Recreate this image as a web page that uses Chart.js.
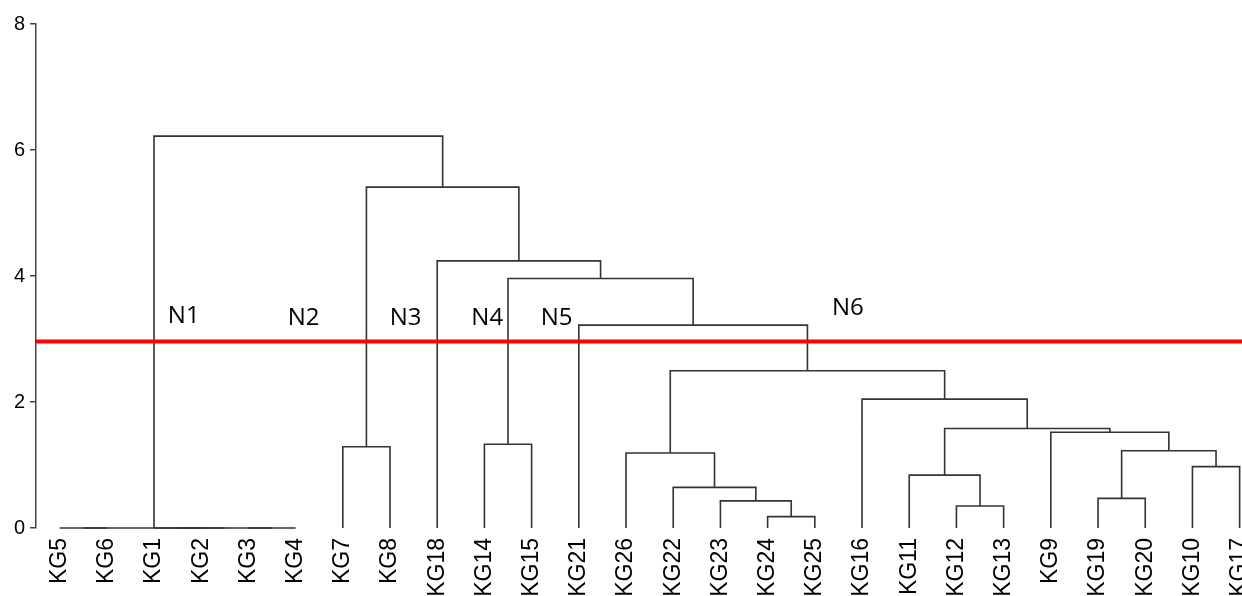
<!DOCTYPE html>
<html>
<head>
<meta charset="utf-8">
<script src="https://cdn.jsdelivr.net/npm/chart.js@4/dist/chart.umd.min.js"></script>
<style>
  html, body { margin: 0; padding: 0; background: #fff; }
  #wrap { width: 1242px; height: 596px; position: relative; }
</style>
</head>
<body>
<div id="wrap"><canvas id="c"></canvas></div>
<script>
// ---- data ----
const leaves = ['KG5','KG6','KG1','KG2','KG3','KG4','KG7','KG8','KG18','KG14','KG15','KG21','KG26','KG22','KG23','KG24','KG25','KG16','KG11','KG12','KG13','KG9','KG19','KG20','KG10','KG17'];
// merge i joins mergeLeft[i] and mergeRight[i] at mergeHeight[i]; 'Mk' refers to merge k
const mergeLeft   = ['KG5','KG1','KG3','M1','M0','KG24','KG12','KG23','KG19','KG22','KG11','KG10','KG26','M8','KG7','KG14','KG9','M10','KG16','M12','KG21','M15','KG18','M14','M4'];
const mergeRight  = ['KG6','KG2','KG4','M2','M3','KG25','KG13','M5','KG20','M7','M6','KG17','M9','M11','KG8','KG15','M13','M16','M17','M18','M19','M20','M21','M22','M23'];
const mergeHeight = [0,0,0,0,0,0.18,0.35,0.43,0.47,0.645,0.84,0.975,1.19,1.226,1.29,1.33,1.52,1.58,2.045,2.495,3.22,3.96,4.24,5.41,6.22];
const cutHeight = 2.96;
const clusterLabels = ['N1','N2','N3','N4','N5','N6'];
const clusterLabelX = [2.63, 5.17, 7.33, 9.06, 10.53, 16.7];
const clusterLabelY = [3.36, 3.33, 3.33, 3.33, 3.33, 3.49];
const yTicks = [0, 2, 4, 6, 8];

// ---- build dendrogram segments ----
const xMin = -0.5, xMax = 25.05;
const nodeX = {}, nodeH = {};
leaves.forEach((l, i) => { nodeX[l] = i; nodeH[l] = 0; });
const segments = [];
mergeHeight.forEach((h, i) => {
  const a = mergeLeft[i], b = mergeRight[i];
  segments.push([
    {x: nodeX[a], y: nodeH[a]},
    {x: nodeX[a], y: h},
    {x: nodeX[b], y: h},
    {x: nodeX[b], y: nodeH[b]}
  ]);
  nodeX['M' + i] = (nodeX[a] + nodeX[b]) / 2;
  nodeH['M' + i] = h;
});

const datasets = segments.map(pts => ({
  data: pts, showLine: true, borderColor: '#333', borderWidth: 1.6,
  pointRadius: 0, fill: false, order: 2, clip: false, tension: 0
}));
datasets.push({
  data: [{x: xMin, y: cutHeight}, {x: xMax, y: cutHeight}],
  showLine: true, borderColor: '#ff0000', borderWidth: 4, pointRadius: 0,
  fill: false, order: 0, clip: false
});

const labelPlugin = {
  id: 'clusterLabels',
  afterDatasetsDraw(chart) {
    const ctx = chart.ctx, xs = chart.scales.x, ys = chart.scales.y;
    ctx.save();
    ctx.font = '24px "Open Sans", sans-serif';
    ctx.fillStyle = '#000';
    ctx.textAlign = 'center';
    ctx.textBaseline = 'middle';
    clusterLabels.forEach((t, i) => {
      ctx.fillText(t, xs.getPixelForValue(clusterLabelX[i]), ys.getPixelForValue(clusterLabelY[i]));
    });
    ctx.restore();
  }
};

new Chart(document.getElementById('c'), {
  type: 'scatter',
  data: { datasets },
  options: {
    responsive: true,
    maintainAspectRatio: false,
    animation: false,
    layout: { padding: { top: 24, left: 0, right: 0, bottom: 0 } },
    plugins: { legend: { display: false }, tooltip: { enabled: false } },
    scales: {
      x: {
        type: 'linear', min: xMin, max: xMax,
        border: { display: false },
        grid: { display: false, drawTicks: false },
        afterBuildTicks: s => { s.ticks = leaves.map((_, i) => ({ value: i })); },
        afterFit: s => { s.height = 68; s.paddingLeft = 0; s.paddingRight = 0; },
        ticks: {
          autoSkip: false, minRotation: 90, maxRotation: 90, padding: 10,
          color: '#000', font: { family: '"Liberation Sans", Arial, sans-serif', size: 23 },
          callback: v => leaves[Math.round(v)]
        }
      },
      y: {
        type: 'linear', min: 0, max: 8,
        border: { display: true, color: '#444', width: 1.5 },
        grid: { drawOnChartArea: false, drawTicks: true, tickLength: 6, color: '#444', lineWidth: 1.5 },
        afterBuildTicks: s => { s.ticks = yTicks.map(v => ({ value: v })); },
        afterFit: s => { s.width = 36; s.paddingTop = 0; s.paddingBottom = 0; },
        ticks: {
          padding: 5, color: '#000',
          font: { family: '"Liberation Sans", Arial, sans-serif', size: 20 }
        }
      }
    }
  },
  plugins: [labelPlugin]
});
</script>
</body>
</html>
